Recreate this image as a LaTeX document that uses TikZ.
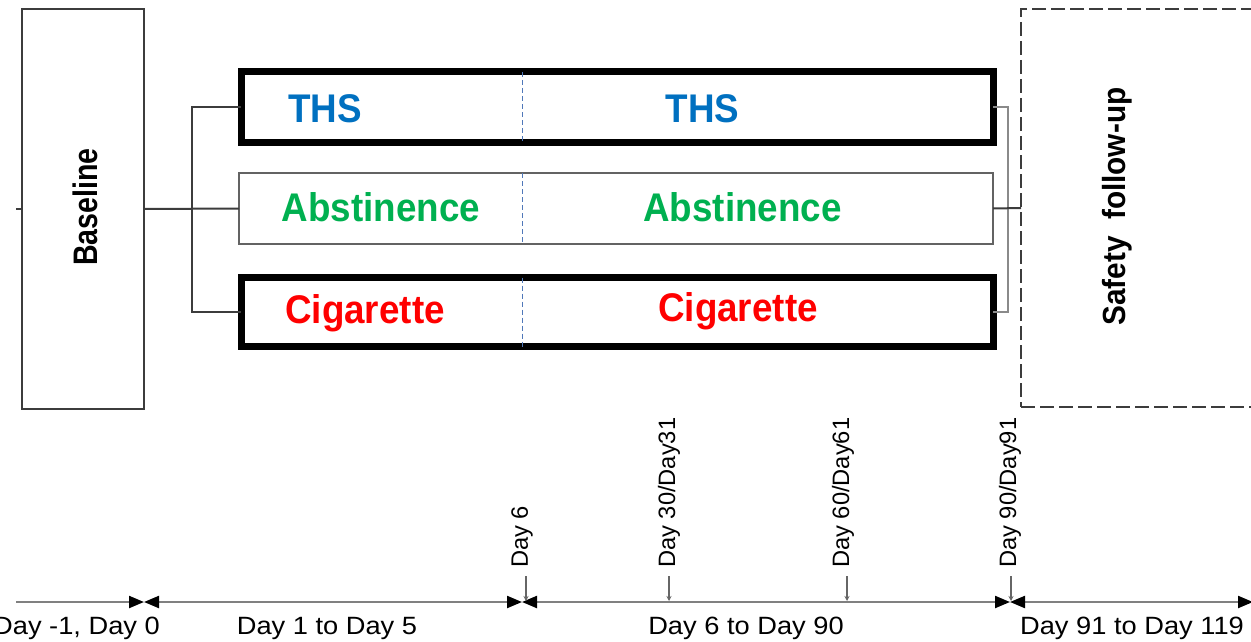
\documentclass[tikz,border=0pt]{standalone}
\usepackage{fontspec}
\setmainfont{Liberation Sans}
\newfontfamily\fontArm[FakeStretch=0.92]{Liberation Sans}
\newfontfamily\fontTL[FakeStretch=1.09]{Liberation Sans}
\newfontfamily\fontRT{Liberation Sans}
\newfontfamily\fontBL[FakeStretch=0.84]{Liberation Sans}
\newfontfamily\fontSF[FakeStretch=0.93]{Liberation Sans}
\usetikzlibrary{arrows.meta}
\definecolor{thsblue}{RGB}{0,112,192}
\definecolor{absgreen}{RGB}{0,176,80}
\definecolor{cigred}{RGB}{255,0,0}
\definecolor{divblue}{RGB}{80,120,185}
\definecolor{edge}{RGB}{60,60,60}
\definecolor{tlgray}{RGB}{128,128,128}
\tikzset{
  tltip/.tip={Triangle[length=15pt,width=12pt,color=black,fill=black]},
  box/.style={draw=edge, line width=2.5pt, inner sep=0pt, outer sep=0pt},
  thickbox/.style={draw=black, line width=7pt, inner sep=0pt, outer sep=0pt},
  thinarm/.style={draw=edge!80, line width=2.8pt, inner sep=0pt, outer sep=0pt},
  safebox/.style={draw=edge, line width=2.5pt, dash pattern=on 14pt off 5pt, inner sep=0pt, outer sep=0pt},
  armtext/.style={font=\fontArm\bfseries\fontsize{40}{44}\selectfont, inner sep=0pt, anchor=base},
  conn/.style={draw=edge, line width=2pt},
  connlight/.style={draw=edge!60, line width=1.8pt},
  divider/.style={draw=divblue, line width=1.2pt, dash pattern=on 5pt off 3pt},
  tline/.style={draw=tlgray, line width=2.2pt},
  tltext/.style={font=\fontTL\fontsize{25}{28}\selectfont, inner sep=0pt},
  daytext/.style={font=\fontRT\fontsize{23.7}{26}\selectfont, inner sep=0pt, rotate=90, anchor=west},
  dayarrow/.style={draw=tlgray!80!black, line width=1.2pt, -{Stealth[length=5pt,width=5pt]}}
}
\begin{document}
\begin{tikzpicture}[x=1pt,y=-1pt]
\useasboundingbox (0,0) rectangle (1251,642);
\clip (0,0) rectangle (1251,642);

% boxes
\node[box, minimum width=122pt, minimum height=400pt] (base) at (83,209) {};
\node[font=\fontBL\bfseries\fontsize{34}{38}\selectfont, rotate=90, inner sep=0pt] (basetxt) at (85,207) {Baseline};

\node[thickbox, minimum width=752pt, minimum height=70pt] (ths) at (617,107) {};
\node[thinarm, minimum width=754pt, minimum height=71pt] (abs) at (616,208.5) {};
\node[thickbox, minimum width=752pt, minimum height=69pt] (cig) at (617,312) {};

\node[safebox, minimum width=279pt, minimum height=398pt] (safe) at (1160.5,208) {};
\node[font=\fontSF\bfseries\fontsize{32}{36}\selectfont, rotate=90, inner sep=0pt] (safetxt) at (1117,206.5) {Safety\hspace{0.25em} follow-up};

% dividers
\coordinate (div) at (522.5,0);
\draw[divider] (ths.north -| div) -- (ths.south -| div);
\draw[divider] (abs.north -| div) -- (abs.south -| div);
\draw[divider] (cig.north -| div) -- (cig.south -| div);

% arm labels
\node[armtext, text=thsblue] (ths1) at (325,122.5) {THS};
\node[armtext, text=thsblue] (ths2) at (702.5,122.5) {THS};
\node[armtext, text=absgreen] (abs1) at (381,221.5) {Abstinence};
\node[armtext, text=absgreen] (abs2) at (742.5,221) {Abstinence};
\node[armtext, text=cigred] (cig1) at (365,323) {Cigarette};
\node[armtext, text=cigred] (cig2) at (738,321.5) {Cigarette};

% connectors
\coordinate (tick) at (16,209);
\draw[conn] (base.west) -- (tick);
\draw[conn] (base.east) -- (abs.west);
\coordinate (lj) at (191.5,208);
\draw[conn] (ths.west) -| (lj);
\draw[conn] (cig.west) -| (lj);
\coordinate (rj) at (1008,208);
\draw[connlight] (ths.east) -| (rj);
\draw[connlight] (cig.east) -| (rj);
\draw[conn] (abs.east) -- (safe.west);

% timeline
\coordinate (t0) at (16,602);
\coordinate (t1) at (144,602);
\coordinate (t2) at (522,602);
\coordinate (t3) at (1010,602);
\coordinate (t4) at (1253,602);
\draw[tline, -{tltip}] (t0) -- (t1);
\draw[tline, {tltip}-{tltip}] (t1) -- (t2);
\draw[tline, {tltip}-{tltip}] (t2) -- (t3);
\draw[tline, {tltip}-{tltip}] (t3) -- (t4);

% timeline labels
\node[tltext, anchor=base east] (l0) at (160,634) {Day -1, Day 0};
\node[tltext, anchor=base] (l1) at (327,634) {Day 1 to Day 5};
\node[tltext, anchor=base] (l2) at (746,634) {Day 6 to Day 90};
\node[tltext, anchor=base] (l3) at (1132,634) {Day 91 to Day 119};

% day markers
\node[daytext] (d6) at (522,568) {Day 6};
\node[daytext] (d30) at (669,568) {Day 30/Day31};
\node[daytext] (d60) at (843,568) {Day 60/Day61};
\node[daytext] (d90) at (1010,568) {Day 90/Day91};
\coordinate (a6) at (526,601);
\coordinate (a30) at (669,601);
\coordinate (a60) at (847,601);
\coordinate (a90) at (1011,601);
\draw[dayarrow] (a6 |- 0,576) -- (a6);
\draw[dayarrow] (a30 |- 0,576) -- (a30);
\draw[dayarrow] (a60 |- 0,576) -- (a60);
\draw[dayarrow] (a90 |- 0,576) -- (a90);
\end{tikzpicture}
\end{document}
